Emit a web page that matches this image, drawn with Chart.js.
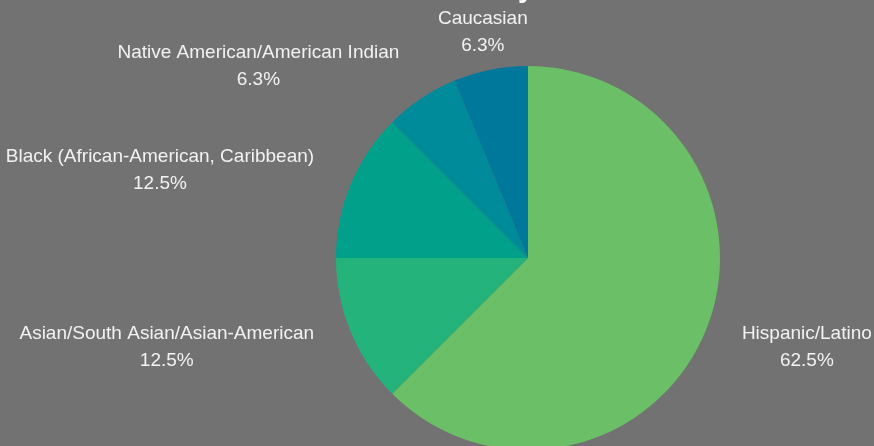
<!DOCTYPE html>
<html>
<head>
<meta charset="utf-8">
<script src="https://cdn.jsdelivr.net/npm/chart.js@4/dist/chart.umd.min.js"></script>
<style>
  html, body { margin: 0; padding: 0; background: #727272; }
  #wrap { width: 874px; height: 446px; }
</style>
</head>
<body>
<div id="wrap"><canvas id="c" width="874" height="446"></canvas></div>
<script>
const titleText = 'Race/Ethnicity';
const categories = [
  'Hispanic/Latino',
  'Asian/South Asian/Asian-American',
  'Black (African-American, Caribbean)',
  'Native American/American Indian',
  'Caucasian'
];
const counts = [10, 2, 2, 1, 1];
const colors = ['#6bbf67', '#23b37b', '#00a08a', '#008b9b', '#00789b'];

const labelPlugin = {
  id: 'outsideLabels',
  afterDraw(chart) {
    const ctx = chart.ctx;
    const meta = chart.getDatasetMeta(0);
    const data = chart.data.datasets[0].data;
    const total = data.reduce((a, b) => a + b, 0);
    ctx.save();
    ctx.fillStyle = '#f2f2f2';
    ctx.font = '19px "Liberation Sans", Arial, sans-serif';
    ctx.textBaseline = 'middle';
    ctx.textAlign = 'center';
    const lineGap = 27;
    meta.data.forEach((arc, i) => {
      const p = arc.getProps(['x', 'y', 'startAngle', 'endAngle', 'outerRadius'], true);
      const mid = (p.startAngle + p.endAngle) / 2;
      const dx = Math.cos(mid), dy = Math.sin(mid);
      const d = p.outerRadius + 39.5;
      const px = p.x + dx * d, py = p.y + dy * d;
      const line1 = chart.data.labels[i];
      const line2 = (data[i] / total * 100).toFixed(1) + '%';
      const w = Math.max(ctx.measureText(line1).width, ctx.measureText(line2).width);
      let cx = px;
      if (dx > 0.3) cx = px + w / 2;
      else if (dx < -0.3) cx = px - w / 2;
      ctx.fillText(line1, cx, py - lineGap / 2 + 1);
      ctx.fillText(line2, cx, py + lineGap / 2 + 1);
    });
    // title, mostly above the visible canvas
    ctx.font = 'bold 28px "Liberation Sans", Arial, sans-serif';
    ctx.textBaseline = 'alphabetic';
    ctx.fillStyle = '#ffffff';
    ctx.fillText(titleText, chart.width / 2, -3);
    ctx.restore();
  }
};

new Chart(document.getElementById('c'), {
  type: 'pie',
  data: {
    labels: categories,
    datasets: [{
      data: counts,
      backgroundColor: colors,
      borderWidth: 0,
      hoverOffset: 0,
      offset: 0
    }]
  },
  options: {
    responsive: false,
    animation: false,
    radius: 192,
    layout: { padding: { top: 70, bottom: 0, left: 336, right: 154 } },
    plugins: {
      legend: { display: false },
      title: { display: false },
      tooltip: { enabled: false }
    }
  },
  plugins: [labelPlugin]
});
</script>
</body>
</html>
